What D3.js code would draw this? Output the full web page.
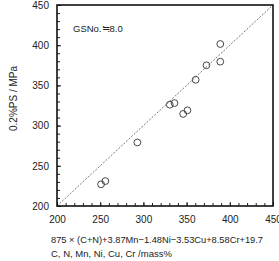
<!DOCTYPE html>
<html><head><meta charset="utf-8">
<script src="https://cdn.jsdelivr.net/npm/d3@7"></script>
<style>body{margin:0;background:#fff}svg{display:block}text{font-family:"Liberation Sans","Noto Sans CJK JP",sans-serif;fill:#222}</style>
</head><body>
<svg id="c" width="279" height="261"></svg>
<script>
const calcX = [389, 389, 373, 360.5, 330.5, 336, 351, 346, 293, 251, 256];
const measY = [401.5, 379.5, 375, 357, 326, 328, 319, 314.5, 279, 227, 231];
const tickVals = [200, 250, 300, 350, 400, 450];
const minorVals = d3.range(200, 451, 10);
const note = "GSNo.≒8.0";
const yLabel = "0.2%PS  / MPa";
const xLabel1 = "875 × (C+N)+3.87Mn−1.48Ni−3.53Cu+8.58Cr+19.7";
const xLabel2 = "C, N, Mn, Ni, Cu, Cr  /mass%";

const svg = d3.select("#c");
const L = 57, R = 273, T = 5, B = 206;
const x = d3.scaleLinear().domain([200, 450]).range([L, R]);
const y = d3.scaleLinear().domain([200, 450]).range([B, T]);

const gx = svg.append("g").attr("transform", `translate(0,${B})`)
  .call(d3.axisBottom(x).tickValues(minorVals).tickSize(-3).tickFormat(""));
const gy = svg.append("g").attr("transform", `translate(${L},0)`)
  .call(d3.axisLeft(y).tickValues(minorVals).tickSize(-3).tickFormat(""));
[gx, gy].forEach(g => { g.select(".domain").remove(); g.selectAll("line").attr("stroke", "#222"); });

const ax = svg.append("g").attr("transform", `translate(0,${B})`)
  .call(d3.axisBottom(x).tickValues(tickVals).tickSize(-4).tickPadding(10));
const ay = svg.append("g").attr("transform", `translate(${L},0)`)
  .call(d3.axisLeft(y).tickValues(tickVals).tickSize(-4).tickPadding(8));
[ax, ay].forEach(g => {
  g.select(".domain").remove();
  g.selectAll("line").attr("stroke", "#222");
  g.selectAll("text").style("font-size", "10px").attr("fill", "#222")
    .style("font-family", '"Liberation Sans",sans-serif');
});

svg.append("line")
  .attr("x1", x(200)).attr("y1", y(200)).attr("x2", x(450)).attr("y2", y(450))
  .attr("stroke", "#555").attr("stroke-width", 0.8).attr("stroke-dasharray", "2,1.5");

svg.append("rect").attr("x", L).attr("y", T).attr("width", R - L).attr("height", B - T)
  .attr("fill", "none").attr("stroke", "#111").attr("stroke-width", 1.6);

svg.append("g").selectAll("circle").data(calcX).join("circle")
  .attr("cx", d => x(d)).attr("cy", (d, i) => y(measY[i])).attr("r", 3.4)
  .attr("fill", "none").attr("stroke", "#333").attr("stroke-width", 0.9);

svg.append("text").attr("x", 73).attr("y", 32).style("font-size", "9.5px").text(note);

svg.append("text").attr("transform", `translate(17,${(T + B) / 2 - 7}) rotate(-90)`)
  .attr("text-anchor", "middle").style("font-size", "10px").text(yLabel);

svg.append("text").attr("x", 51).attr("y", 243).style("font-size", "9.5px")
  .attr("textLength", 212).attr("lengthAdjust", "spacingAndGlyphs").text(xLabel1);
svg.append("text").attr("x", 51).attr("y", 257).style("font-size", "9.5px").text(xLabel2);
</script>
</body></html>
